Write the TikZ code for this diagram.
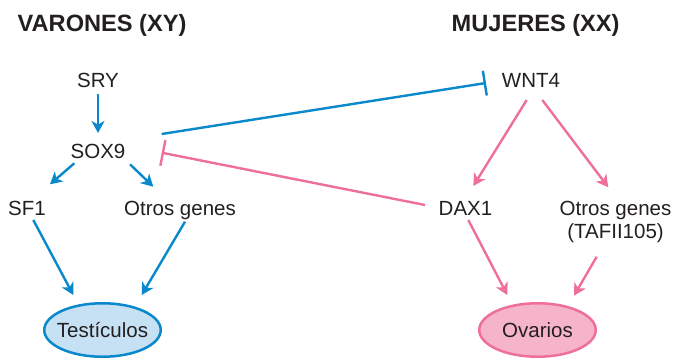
\documentclass[tikz,border=0pt]{standalone}
\usepackage{fontspec}
\setmainfont{Liberation Sans}
\usetikzlibrary{arrows.meta,shapes.geometric,calc}
\definecolor{txt}{HTML}{231F20}
\definecolor{mblue}{HTML}{0A88CC}
\definecolor{mpink}{HTML}{EE6F9C}
\definecolor{bfill}{HTML}{C6E0F4}
\definecolor{pfill}{HTML}{F6B4CA}
\tikzset{
  gene/.style={anchor=base, inner sep=0pt, text=txt, font=\fontsize{20.5}{23}\selectfont},
  ttl/.style={anchor=base west, inner sep=0pt, text=txt, font=\fontsize{23.6}{26}\selectfont\bfseries},
  organ/.style={ellipse, draw=#1, line width=2.5pt, minimum width=116.5pt, minimum height=53.5pt, inner sep=0pt, text=txt, font=\fontsize{20.5}{23}\selectfont},
  barr/.style={draw=mblue, line width=2.4pt, -{Stealth[length=12pt,width=13pt,inset=3.5pt]}},
  parr/.style={draw=mpink, line width=2.4pt, -{Stealth[length=12pt,width=13pt,inset=3.5pt]}},
  binh/.style={draw=mblue, line width=2.4pt, -{Bar[width=25pt]}},
  pinh/.style={draw=mpink, line width=2.4pt, -{Bar[width=26pt]}},
}
\begin{document}
\begin{tikzpicture}[x=1pt,y=-1pt]
\useasboundingbox (0,0) rectangle (674,359);
\node[ttl] (tv) at (17.5,31) {VARONES (XY)};
\node[ttl] (tm) at (451.5,31) {MUJERES (XX)};
\node[gene] (sry) at (98,87) {SRY};
\node[gene] (sox9) at (98,158) {SOX9};
\node[gene] (sf1) at (27,215) {SF1};
\node[gene] (otros1) at (180,215) {Otros genes};
\node[gene] (wnt4) at (531,87) {WNT4};
\node[gene] (dax1) at (465.5,215) {DAX1};
\node[gene, align=center] (otros2) at (615.5,238) {Otros genes\\(TAFII105)};
\node[organ=mblue, fill=bfill] (test) at (102.5,330) {\makebox[0pt]{Testículos}};
\node[organ=mpink, fill=pfill] (ovar) at (537.5,330) {\makebox[0pt]{Ovarios}};
% male cascade
\draw[barr] ($(sry.base)+(0,7)$) -- ($(sox9.base)+(0,-25)$);
\draw[barr] ($(sox9.base)+(-23.7,5.3)$) -- ($(sf1.base)+(23,-30.7)$);
\draw[barr] ($(sox9.base)+(32,6.3)$) -- ($(otros1.base)+(-26.7,-28.3)$);
\draw[barr] ($(sf1.base)+(6.3,5)$) -- ($(test.center)+(-29.2,-35)$);
\draw[barr] ($(otros1.base)+(5,6.7)$) -- ($(test.center)+(39.2,-35)$);
% inhibitions
\draw[binh] ($(sox9.base)+(63.7,-24)$) -- ($(wnt4.base)+(-45,-4)$);
\draw[pinh] ($(dax1.base)+(-40.5,-10)$) -- ($(sox9.base)+(63.7,-5.3)$);
% female cascade
\draw[parr] ($(wnt4.base)+(-4.3,13)$) -- ($(dax1.base)+(7.8,-29)$);
\draw[parr] ($(wnt4.base)+(11.3,13)$) -- ($(otros2.base)+(-7.2,-50.7)$);
\draw[parr] ($(dax1.base)+(2.8,5)$) -- ($(ovar.center)+(-30.2,-35)$);
\draw[parr] ($(otros2.base)+(-18.8,18.7)$) -- ($(ovar.center)+(36.5,-34.3)$);
\end{tikzpicture}
\end{document}
